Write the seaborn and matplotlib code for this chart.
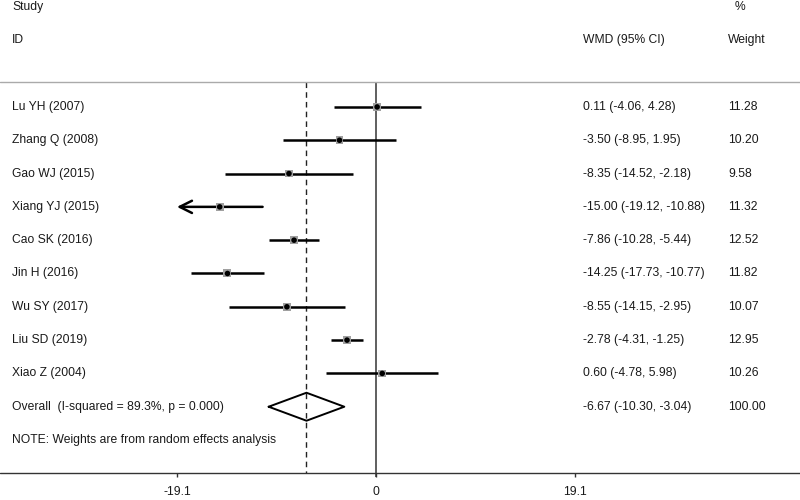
import numpy as np
import pandas as pd
import matplotlib
matplotlib.use("Agg")
import matplotlib.pyplot as plt
import seaborn as sns

# -------------------------------
# Data
# -------------------------------
studies = ["Lu YH (2007)", "Zhang Q (2008)", "Gao WJ (2015)", "Xiang YJ (2015)",
           "Cao SK (2016)", "Jin H (2016)", "Wu SY (2017)", "Liu SD (2019)", "Xiao Z (2004)"]
wmd = [0.11, -3.50, -8.35, -15.00, -7.86, -14.25, -8.55, -2.78, 0.60]
ci_low = [-4.06, -8.95, -14.52, -19.12, -10.28, -17.73, -14.15, -4.31, -4.78]
ci_high = [4.28, 1.95, -2.18, -10.88, -5.44, -10.77, -2.95, -1.25, 5.98]
weights = [11.28, 10.20, 9.58, 11.32, 12.52, 11.82, 10.07, 12.95, 10.26]

overall_label = "Overall  (I-squared = 89.3%, p = 0.000)"
overall = -6.67
overall_low = -10.30
overall_high = -3.04
overall_weight = 100.00

note = "NOTE: Weights are from random effects analysis"
xticks = [-19.1, 0, 19.1]
axis_lim = 19.1

df = pd.DataFrame({"study": studies, "wmd": wmd, "lo": ci_low, "hi": ci_high, "w": weights})
df["row"] = np.arange(len(df)) + 3
overall_row = len(df) + 3
note_row = overall_row + 1
axis_row = note_row + 1

# -------------------------------
# Figure
# -------------------------------
sns.set_style("white")
plt.rcParams["font.family"] = ["Liberation Sans", "DejaVu Sans"]
fs = 8.75
tc = "#1a1a1a"

fig = plt.figure(figsize=(8, 5), dpi=100)
ax = fig.add_axes([0, 0, 1, 1])
ax.set_xlim(-36.08, 40.69)
ax.set_ylim(14.80, -0.21)
ax.axis("off")

# reference lines
ax.vlines(0, 2.25, axis_row + 0.12, color="#444444", lw=1.2, zorder=1)
ax.vlines(overall, 2.25, axis_row, color="#222222", lw=1.0, linestyles=(0, (4, 3)), zorder=1)
ax.axhline(2.25, color="#aaaaaa", lw=1.0)
ax.axhline(axis_row, color="#333333", lw=1.0)

# confidence intervals (clip at axis limits, arrow when off-scale)
for _, r in df.iterrows():
    lo = max(r["lo"], -axis_lim)
    hi = min(r["hi"], axis_lim)
    if r["lo"] < -axis_lim:
        ax.annotate("", xy=(lo, r["row"]), xytext=(hi, r["row"]),
                    arrowprops=dict(arrowstyle="->", lw=1.8, color="black",
                                    mutation_scale=22, shrinkA=0, shrinkB=0))
    else:
        ax.hlines(r["row"], lo, hi, color="black", lw=1.8, zorder=2)

# weighted boxes + point estimates
sns.scatterplot(data=df, x="wmd", y="row", size="w", sizes=(28, 36), marker="s",
                color="#a0a0a0", edgecolor="none", legend=False, ax=ax, zorder=3)
sns.scatterplot(data=df, x="wmd", y="row", s=16, color="black", edgecolor="none",
                legend=False, ax=ax, zorder=4)

# overall diamond
h = 0.42
ax.plot([overall_low, overall, overall_high, overall, overall_low],
        [overall_row, overall_row - h, overall_row, overall_row + h, overall_row],
        color="black", lw=1.4, zorder=4)

# tick marks and labels
for t in xticks:
    ax.vlines(t, axis_row, axis_row + 0.12, color="#333333", lw=1.0)
    ax.text(t, axis_row + 0.56, f"{t:g}", ha="center", va="center", fontsize=fs, color=tc)

# text columns
trans = ax.get_yaxis_transform()
c1, c2, c3 = 12 / 800, 583 / 800, 728 / 800
ax.text(c1, 0, "Study", transform=trans, ha="left", va="center", fontsize=fs, color=tc)
ax.text(c1, 1, "ID", transform=trans, ha="left", va="center", fontsize=fs, color=tc)
ax.text(c2, 1, "WMD (95% CI)", transform=trans, ha="left", va="center", fontsize=fs, color=tc)
ax.text(735 / 800, 0, "%", transform=trans, ha="left", va="center", fontsize=fs, color=tc)
ax.text(c3, 1, "Weight", transform=trans, ha="left", va="center", fontsize=fs, color=tc)

for _, r in df.iterrows():
    ax.text(c1, r["row"], r["study"], transform=trans, ha="left", va="center", fontsize=fs, color=tc)
    ax.text(c2, r["row"], f"{r['wmd']:.2f} ({r['lo']:.2f}, {r['hi']:.2f})", transform=trans,
            ha="left", va="center", fontsize=fs, color=tc)
    ax.text(c3, r["row"], f"{r['w']:.2f}", transform=trans, ha="left", va="center", fontsize=fs, color=tc)

ax.text(c1, overall_row, overall_label, transform=trans, ha="left", va="center", fontsize=fs, color=tc)
ax.text(c2, overall_row, f"{overall:.2f} ({overall_low:.2f}, {overall_high:.2f})", transform=trans,
        ha="left", va="center", fontsize=fs, color=tc)
ax.text(c3, overall_row, f"{overall_weight:.2f}", transform=trans, ha="left", va="center", fontsize=fs, color=tc)
ax.text(c1, note_row, note, transform=trans, ha="left", va="center", fontsize=fs, color=tc)

fig.savefig("out.png", dpi=100)
plt.close(fig)
